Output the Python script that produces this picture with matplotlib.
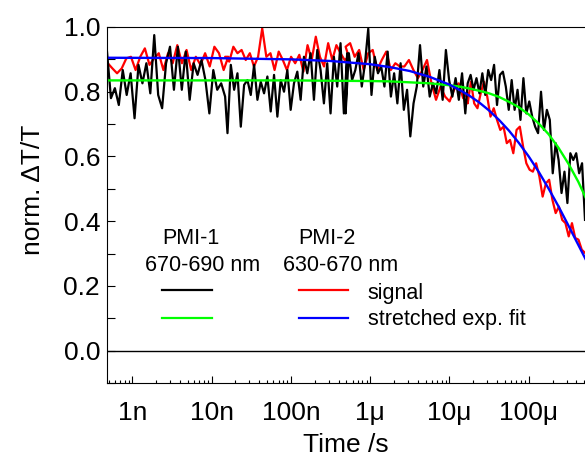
import numpy as np
import matplotlib.pyplot as plt
from matplotlib.ticker import FixedLocator, FixedFormatter, MultipleLocator, LogLocator, NullFormatter

plt.rcParams['font.family'] = ['Liberation Sans', 'DejaVu Sans']

# axis window (log10 of seconds)
t_start, t_stop = -9.32, -3.29

pmi1_spans = [(-9.32, -7.83), (-7.80, -6.29), (-6.31, -4.80), (-4.77, -3.29)]
pmi1_signal = [
    [0.924, 0.780, 0.811, 0.759, 0.867, 0.790, 0.857, 0.718, 0.883, 0.826,
     0.888, 0.795, 0.975, 0.790, 0.749, 0.888, 0.939, 0.806, 0.939, 0.806,
     0.924, 0.775, 0.888, 0.852, 0.898, 0.836, 0.733, 0.867, 0.806, 0.826,
     0.785],
    [0.672, 0.883, 0.806, 0.857, 0.692, 0.821, 0.836, 0.790, 0.883, 0.775,
     0.831, 0.795, 0.847, 0.739, 0.852, 0.723, 0.836, 0.800, 0.867, 0.744,
     0.826, 0.862, 0.775, 0.908, 0.857, 0.919, 0.775, 0.929, 0.867, 0.764,
     0.888, 0.733, 0.908, 0.816, 0.950, 0.733, 0.919],
    [0.733, 0.919, 0.836, 0.867, 0.919, 0.816, 0.888, 0.995, 0.790, 0.908,
     0.857, 0.878, 0.816, 0.924, 0.785, 0.857, 0.764, 0.888, 0.744, 0.806,
     0.662, 0.764, 0.816, 0.944, 0.816, 0.878, 0.785, 0.826, 0.795, 0.867,
     0.775, 0.929, 0.836, 0.785, 0.842, 0.775, 0.857, 0.733],
    [0.826, 0.852, 0.806, 0.842, 0.795, 0.857, 0.790, 0.867, 0.836, 0.883,
     0.759, 0.852, 0.862, 0.816, 0.744, 0.836, 0.744, 0.806, 0.713, 0.842,
     0.733, 0.770, 0.723, 0.692, 0.672, 0.800, 0.682, 0.744, 0.713, 0.548,
     0.641, 0.589, 0.487, 0.553, 0.456, 0.610, 0.589, 0.610, 0.548, 0.579,
     0.404],
]

# PMI-2, 630-670 nm (red trace)
pmi2_spans = [(-9.31, -7.79), (-7.83, -6.27), (-6.31, -4.77), (-4.77, -3.29)]
pmi2_signal = [
    [0.888, 0.872, 0.857, 0.872, 0.903, 0.908, 0.867, 0.908, 0.934, 0.883,
     0.903, 0.919, 0.867, 0.919, 0.888, 0.944, 0.888, 0.929, 0.867, 0.908,
     0.883, 0.919, 0.878, 0.939, 0.919, 0.867, 0.908],
    [0.908, 0.893, 0.939, 0.919, 0.929, 0.898, 0.919, 0.878, 0.908, 0.996,
     0.908, 0.919, 0.867, 0.924, 0.898, 0.867, 0.908, 0.888, 0.914, 0.862,
     0.944, 0.898, 0.970, 0.908, 0.878, 0.950, 0.898, 0.944, 0.919, 0.898,
     0.908],
    [0.939, 0.950, 0.908, 0.929, 0.867, 0.919, 0.929, 0.867, 0.898, 0.924,
     0.867, 0.888, 0.878, 0.878, 0.898, 0.867, 0.842, 0.867, 0.898, 0.826,
     0.775, 0.816, 0.785, 0.770, 0.806, 0.826, 0.780, 0.795],
    [0.764, 0.831, 0.764, 0.749, 0.795, 0.831, 0.785, 0.723, 0.749, 0.713,
     0.682, 0.692, 0.641, 0.651, 0.610, 0.682, 0.692, 0.631, 0.579, 0.559,
     0.553, 0.579, 0.538, 0.476, 0.517, 0.528, 0.466, 0.425, 0.445, 0.404,
     0.394, 0.353, 0.394, 0.348, 0.343, 0.312, 0.302],
]

fit_logt = [-9.4, -8.0, -7.0, -6.5, -6.0, -5.75, -5.5, -5.25, -5.0, -4.875,
            -4.75, -4.625, -4.5, -4.375, -4.25, -4.125, -4.0, -3.875, -3.75,
            -3.625, -3.5, -3.375, -3.25]
pmi1_fit = [0.835, 0.835, 0.835, 0.834, 0.833, 0.832, 0.829, 0.826, 0.820, 0.816,
            0.810, 0.803, 0.795, 0.784, 0.769, 0.752, 0.730, 0.702, 0.669,
            0.627, 0.578, 0.522, 0.456]
pmi2_fit = [0.905, 0.904, 0.900, 0.895, 0.885, 0.876, 0.864, 0.846, 0.822, 0.806,
            0.788, 0.767, 0.742, 0.713, 0.680, 0.642, 0.600, 0.553, 0.501,
            0.446, 0.387, 0.327, 0.267]

tick_pos = [1e-9, 1e-8, 1e-7, 1e-6, 1e-5, 1e-4]
tick_labels = ['1n', '10n', '100n', '1\u03bc', '10\u03bc', '100\u03bc']


def stitch(spans, pieces):
    # each stretch of readings is spread evenly (in log time) over its span
    t = np.concatenate([np.logspace(a, b, len(p)) for (a, b), p in zip(spans, pieces)])
    y = np.concatenate([np.asarray(p) for p in pieces])
    return t, y


t1, y1 = stitch(pmi1_spans, pmi1_signal)
t2, y2 = stitch(pmi2_spans, pmi2_signal)
t_fit = 10.0 ** np.array(fit_logt)

fig = plt.figure(figsize=(5.85, 4.57), dpi=100)
ax = fig.add_axes([107 / 585, 1 - 383 / 457, 478 / 585, 356 / 457])

ax.axhline(0, color='black', lw=1.0)
ax.plot(t2, y2, color='#ff0000', lw=1.6)
ax.plot(t1, y1, color='black', lw=1.6)
ax.plot(t_fit, pmi1_fit, color='#00ff00', lw=1.7)
ax.plot(t_fit, pmi2_fit, color='#0000ff', lw=1.7)

ax.set_xscale('log')
ax.set_xlim(10 ** t_start, 10 ** t_stop)
ax.set_ylim(-0.1, 1.0)

ax.xaxis.set_major_locator(FixedLocator(tick_pos))
ax.xaxis.set_major_formatter(FixedFormatter(tick_labels))
ax.xaxis.set_minor_locator(LogLocator(base=10, subs=np.arange(2, 10)))
ax.xaxis.set_minor_formatter(NullFormatter())
ax.yaxis.set_major_locator(MultipleLocator(0.2))
ax.yaxis.set_minor_locator(MultipleLocator(0.1))
ax.yaxis.set_major_formatter(plt.FormatStrFormatter('%.1f'))

ax.tick_params(which='both', direction='in', top=False, right=False, labelsize=19)
ax.tick_params(axis='y', which='both', length=5.5, width=0.8, pad=5)
ax.tick_params(axis='x', which='major', length=5, width=0.8, pad=13)
ax.tick_params(axis='x', which='minor', length=2.5, width=0.8)
ax.spines['right'].set_visible(False)

ax.set_xlabel('Time /s', fontsize=19, labelpad=6)
ax.set_ylabel('norm. \u0394T/T', fontsize=19)
ax.yaxis.set_label_coords(-0.129, 0.542)

# hand made legend block
tr = ax.transAxes
fs = 15.5
ax.text(0.175, 0.390, 'PMI-1', transform=tr, ha='center', va='baseline', fontsize=fs)
ax.text(0.200, 0.315, '670-690 nm', transform=tr, ha='center', va='baseline', fontsize=fs)
ax.text(0.460, 0.390, 'PMI-2', transform=tr, ha='center', va='baseline', fontsize=fs)
ax.text(0.489, 0.315, '630-670 nm', transform=tr, ha='center', va='baseline', fontsize=fs)
ax.plot([0.115, 0.220], [0.261, 0.261], transform=tr, color='black', lw=1.6)
ax.plot([0.115, 0.220], [0.183, 0.183], transform=tr, color='#00ff00', lw=1.6)
ax.plot([0.402, 0.504], [0.261, 0.261], transform=tr, color='#ff0000', lw=1.6)
ax.plot([0.402, 0.504], [0.183, 0.183], transform=tr, color='#0000ff', lw=1.6)
ax.text(0.545, 0.236, 'signal', transform=tr, ha='left', va='baseline', fontsize=fs)
ax.text(0.545, 0.163, 'stretched exp. fit', transform=tr, ha='left', va='baseline', fontsize=fs)

fig.savefig('out.png', dpi=100)
